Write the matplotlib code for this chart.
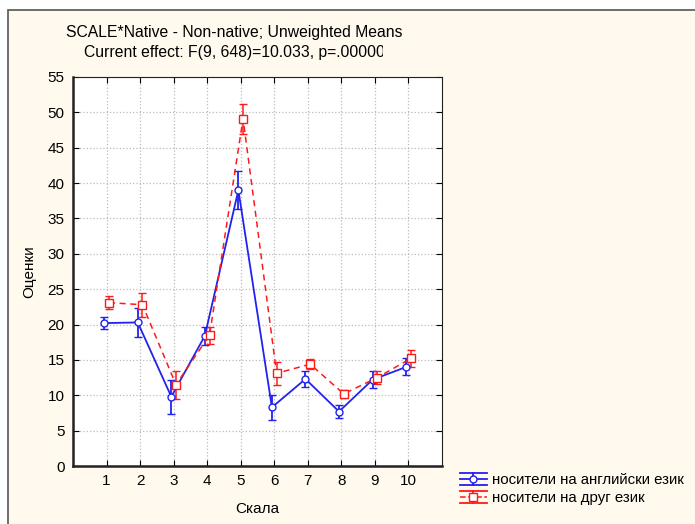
import numpy as np
import matplotlib
import matplotlib.pyplot as plt
from matplotlib.patches import Rectangle
from matplotlib.lines import Line2D
from matplotlib.legend_handler import HandlerBase
from matplotlib.transforms import Bbox, TransformedBbox

plt.rcParams['font.family'] = ['Liberation Sans', 'DejaVu Sans']

# data
scale = np.arange(1, 11)
native_mean = [20.2, 20.3, 9.8, 18.4, 39.0, 8.3, 12.3, 7.7, 12.2, 14.0]
native_err = [0.9, 2.1, 2.4, 1.3, 2.7, 1.8, 1.1, 0.9, 1.2, 1.2]
other_mean = [23.1, 22.8, 11.5, 18.5, 49.1, 13.1, 14.4, 10.2, 12.5, 15.2]
other_err = [0.9, 1.7, 2.0, 1.2, 2.1, 1.6, 0.7, 0.6, 0.9, 1.2]
series_names = ['носители на английски език', 'носители на друг език']
title1 = 'SCALE*Native - Non-native; Unweighted Means'
title2 = 'Current effect: F(9, 648)=10.033, p=.00000'


class WideCapHandler(HandlerBase):
    # legend key like the STATISTICA one: wide caps above and below the line
    def create_artists(self, legend, orig, xd, yd, width, height, fontsize, trans):
        c = orig.get_color()
        ym = yd + height / 2
        top = Line2D([xd, xd + width], [ym + height * 0.55] * 2, color=c, lw=1.3)
        bot = Line2D([xd, xd + width], [ym - height * 0.55] * 2, color=c, lw=1.3)
        stem = Line2D([xd + width / 2] * 2, [ym - height * 0.55, ym + height * 0.55], color=c, lw=1.3)
        mid = Line2D([xd, xd + width], [ym, ym], color=c, lw=orig.get_linewidth(),
                     ls=orig.get_linestyle())
        mk = Line2D([xd + width / 2], [ym], marker=orig.get_marker(), ms=orig.get_markersize(),
                    mfc='white', mec=c, ls='none')
        arts = [top, bot, stem, mid, mk]
        for a in arts:
            a.set_transform(trans)
        return arts


W, H = 695, 524
fig = plt.figure(figsize=(W / 100, H / 100), dpi=100)
fig.patch.set_facecolor('white')
# cream panel with a dark frame on top/left, running off the right and bottom edges
fig.patches.append(Rectangle((8 / W, -1), 2, 2 - 10 / H, transform=fig.transFigure,
                             facecolor='#fff9ee', edgecolor='#555555', lw=1.2, zorder=-1))

ax = fig.add_axes([73 / W, (H - 466) / H, (442 - 73) / W, (466 - 77) / H])
ax.set_facecolor('white')

off = 0.07
ax.errorbar(scale - off, native_mean, yerr=native_err, color='#2222ee', lw=1.3,
            marker='o', ms=5, mfc='white', mec='#2222ee', capsize=3, elinewidth=1.3)
ax.errorbar(scale + off, other_mean, yerr=other_err, color='#ff1a1a', lw=1.1, ls=(0, (4, 3)),
            marker='s', ms=6, mfc='white', mec='#ff1a1a', capsize=3, elinewidth=1.1)

ax.set_xlim(0, 11)
ax.set_ylim(0, 55)
ax.set_xticks(scale)
ax.set_yticks(np.arange(0, 56, 5))
ax.tick_params(direction='in', top=True, right=True, labelsize=11, length=4, pad=6)
ax.grid(True, color='#bbbbbb', ls=':', lw=0.9)
for s in ax.spines.values():
    s.set_color('#222222')
ax.spines['left'].set_linewidth(1.8)
ax.spines['bottom'].set_linewidth(1.8)
ax.spines['top'].set_linewidth(0.8)
ax.spines['right'].set_linewidth(0.8)

ax.set_xlabel('Скала', fontsize=11, labelpad=10)
ax.set_ylabel('Оценки', fontsize=11, labelpad=8)

fig.text(234 / W, 1 - 32 / H, title1, ha='center', va='center', fontsize=11.3)
t2 = fig.text(234 / W, 1 - 53 / H, title2, ha='center', va='center', fontsize=11.3)
t2.set_clip_on(True)
t2.set_clip_box(TransformedBbox(Bbox([[0, 0], [383 / W, 1]]), fig.transFigure))

h1 = Line2D([], [], color='#2222ee', lw=1.3, marker='o', ms=5)
h2 = Line2D([], [], color='#ff1a1a', lw=1.1, ls=(0, (3, 2)), marker='s', ms=6)
leg = fig.legend([h1, h2], series_names, loc='upper left',
                 bbox_to_anchor=(446 / W, 1 - 460 / H), frameon=False,
                 fontsize=10.8, handlelength=1.8, handletextpad=0.4, labelspacing=0.25,
                 handler_map={Line2D: WideCapHandler()})

fig.savefig('out.png', dpi=100, facecolor=fig.get_facecolor())
